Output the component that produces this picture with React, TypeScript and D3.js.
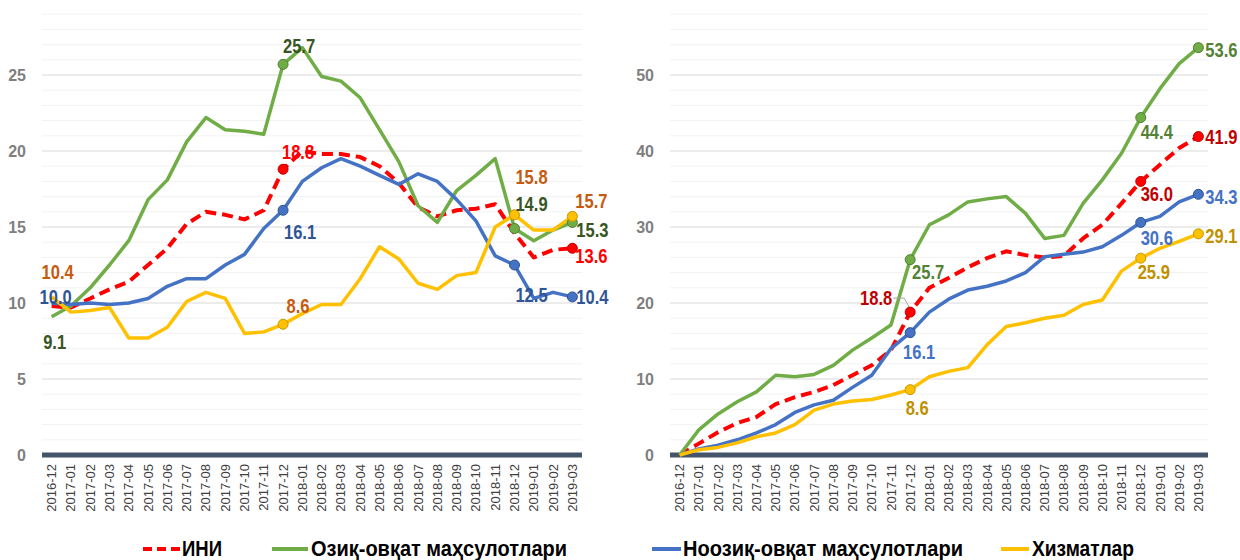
import React, { useRef, useEffect } from 'react';
import * as d3 from 'd3';

// Months along the x axis (both panels)
const months = [
  '2016-12',
  '2017-01', '2017-02', '2017-03', '2017-04', '2017-05', '2017-06',
  '2017-07', '2017-08', '2017-09', '2017-10', '2017-11', '2017-12',
  '2018-01', '2018-02', '2018-03', '2018-04', '2018-05', '2018-06',
  '2018-07', '2018-08', '2018-09', '2018-10', '2018-11', '2018-12',
  '2019-01', '2019-02', '2019-03',
];

const seriesNames = ['ИНИ', 'Озиқ-овқат маҳсулотлари', 'Ноозиқ-овқат маҳсулотлари', 'Хизматлар'];

// Left panel: annual change, %
const leftIni = [9.8, 9.7, 10.3, 10.9, 11.4, 12.5, 13.6, 15.2, 16.0, 15.8, 15.5, 16.1, 18.8, 20.0, 19.8, 19.8, 19.6, 19.0, 17.9, 16.3, 15.7, 16.1, 16.2, 16.5, 14.6, 13.0, 13.5, 13.6];
const leftFood = [9.1, 9.8, 11.0, 12.5, 14.1, 16.8, 18.1, 20.6, 22.2, 21.4, 21.3, 21.1, 25.7, 26.8, 24.9, 24.6, 23.5, 21.4, 19.3, 16.4, 15.3, 17.4, 18.4, 19.5, 14.9, 14.1, 14.8, 15.3];
const leftNonFood = [10.0, 9.9, 10.0, 9.9, 10.0, 10.3, 11.1, 11.6, 11.6, 12.5, 13.2, 14.9, 16.1, 18.0, 18.9, 19.5, 19.0, 18.4, 17.8, 18.5, 18.0, 16.8, 15.4, 13.1, 12.5, 10.3, 10.7, 10.4];
const leftServices = [10.4, 9.4, 9.5, 9.7, 7.7, 7.7, 8.4, 10.1, 10.7, 10.3, 8.0, 8.1, 8.6, 9.3, 9.9, 9.9, 11.6, 13.7, 12.9, 11.3, 10.9, 11.8, 12.0, 15.0, 15.8, 14.8, 14.8, 15.7];

// Right panel: cumulative change since 2016-12, %
const rightIni = [0, 1.5, 3.0, 4.2, 5.0, 6.7, 7.6, 8.3, 9.2, 10.5, 11.8, 13.8, 18.8, 22.0, 23.3, 24.7, 25.9, 26.8, 26.3, 26.0, 26.2, 28.5, 30.3, 33.1, 36.0, 38.2, 40.4, 41.9];
const rightFood = [0, 3.3, 5.4, 7.0, 8.3, 10.5, 10.3, 10.6, 11.8, 13.8, 15.4, 17.1, 25.7, 30.3, 31.6, 33.3, 33.7, 34.0, 31.8, 28.5, 28.9, 33.1, 36.2, 39.7, 44.4, 48.2, 51.5, 53.6];
const rightNonFood = [0, 0.8, 1.3, 2.0, 2.9, 4.0, 5.6, 6.6, 7.2, 8.9, 10.5, 14.0, 16.1, 18.8, 20.5, 21.7, 22.2, 22.9, 24.0, 26.1, 26.4, 26.7, 27.4, 28.9, 30.6, 31.4, 33.3, 34.3];
const rightServices = [0, 0.7, 1.0, 1.6, 2.4, 2.9, 4.0, 5.9, 6.7, 7.1, 7.3, 7.9, 8.6, 10.3, 11.0, 11.5, 14.5, 16.9, 17.4, 18.0, 18.4, 19.8, 20.4, 24.2, 25.9, 27.2, 28.1, 29.1];

const leftMax = 29;
const rightMax = 58;

// which points carry a marker: [series index, month index]
const leftMarkers: [number, number][] = [
  [0, 12], [1, 12], [2, 12], [3, 12],
  [1, 24], [2, 24], [3, 24],
  [0, 27], [1, 27], [2, 27], [3, 27],
];
const rightMarkers: [number, number][] = [
  [0, 12], [1, 12], [2, 12], [3, 12],
  [0, 24], [1, 24], [2, 24], [3, 24],
  [0, 27], [1, 27], [2, 27], [3, 27],
];

// data labels: series, month, text, offset from the point
const leftLabels = [
  { s: 3, i: 0, t: '10.4', dx: 6, dy: -25 },
  { s: 2, i: 0, t: '10.0', dx: 4, dy: -6 },
  { s: 1, i: 0, t: '9.1', dx: 3, dy: 25 },
  { s: 1, i: 12, t: '25.7', dx: 16, dy: -19 },
  { s: 0, i: 12, t: '18.8', dx: 15, dy: -17 },
  { s: 2, i: 12, t: '16.1', dx: 17, dy: 22 },
  { s: 3, i: 12, t: '8.6', dx: 15, dy: -18 },
  { s: 3, i: 24, t: '15.8', dx: 17, dy: -38 },
  { s: 1, i: 24, t: '14.9', dx: 17, dy: -25 },
  { s: 2, i: 24, t: '12.5', dx: 17, dy: 30 },
  { s: 3, i: 27, t: '15.7', dx: 19, dy: -16 },
  { s: 1, i: 27, t: '15.3', dx: 20, dy: 7 },
  { s: 0, i: 27, t: '13.6', dx: 19, dy: 8 },
  { s: 2, i: 27, t: '10.4', dx: 20, dy: 0 },
];
const rightLabels = [
  { s: 1, i: 12, t: '25.7', dx: 18, dy: 12 },
  { s: 0, i: 12, t: '18.8', dx: -34, dy: -14 },
  { s: 2, i: 12, t: '16.1', dx: 9, dy: 19 },
  { s: 3, i: 12, t: '8.6', dx: 7, dy: 18 },
  { s: 1, i: 24, t: '44.4', dx: 16, dy: 14 },
  { s: 0, i: 24, t: '36.0', dx: 16, dy: 12 },
  { s: 2, i: 24, t: '30.6', dx: 16, dy: 15 },
  { s: 3, i: 24, t: '25.9', dx: 13, dy: 14 },
  { s: 1, i: 27, t: '53.6', dx: 23, dy: 2 },
  { s: 0, i: 27, t: '41.9', dx: 23, dy: 0 },
  { s: 2, i: 27, t: '34.3', dx: 23, dy: 2 },
  { s: 3, i: 27, t: '29.1', dx: 23, dy: 2 },
];

const lineColors = ['#FF0000', '#70AD47', '#4472C4', '#FFC000'];
const markerStroke = ['#C00000', '#507E32', '#2F528F', '#C99700'];
const leftLabelColors = ['#FF0000', '#375623', '#2F5597', '#C55A11'];
const rightLabelColors = ['#C00000', '#548235', '#4472C4', '#BF9000'];

const sans = "'Liberation Sans', Arial, sans-serif";

// the labels in the picture use a condensed face: squeeze to its width
const narrowWidth = (t: string, size: number) =>
  t.split('').reduce((w, c) => w + (c === '.' ? 0.23 : 0.46) * size, 0);

const App: React.FC = () => {
  const ref = useRef<SVGSVGElement>(null);

  useEffect(() => {
    if (!ref.current) return;
    const svg = d3.select(ref.current);
    svg.selectAll('*').remove();

    const drawPanel = (opts: {
      x0: number; x1: number; yMax: number; minorStep: number; majorStep: number;
      tickRight: number; series: number[][]; markers: [number, number][];
      labels: { s: number; i: number; t: string; dx: number; dy: number }[];
      labelColors: string[]; leader?: boolean;
    }) => {
      const top = 14.2, bottom = 455;
      const x = d3.scalePoint<string>().domain(months).range([opts.x0, opts.x1]).padding(0.5);
      const y = d3.scaleLinear().domain([0, opts.yMax]).range([bottom, top]);
      const g = svg.append('g');

      // gridlines
      const gridVals = d3.range(opts.minorStep, opts.yMax + 0.001, opts.minorStep);
      g.selectAll('line.grid').data(gridVals).enter().append('line')
        .attr('x1', opts.x0).attr('x2', opts.x1)
        .attr('y1', d => y(d)).attr('y2', d => y(d))
        .attr('stroke', d => (Math.abs(d % opts.majorStep) < 0.001 ? '#D9D9D9' : '#F2F2F2'))
        .attr('stroke-width', 1);

      // y tick labels
      const tickVals = d3.range(0, opts.yMax + 0.001, opts.majorStep);
      g.selectAll('text.yt').data(tickVals).enter().append('text')
        .attr('x', opts.tickRight).attr('y', d => y(d)).attr('dy', '0.36em')
        .attr('text-anchor', 'end')
        .attr('font-family', sans).attr('font-weight', 'bold').attr('font-size', 16)
        .attr('fill', '#7F7F7F')
        .text(d => d);

      // x tick labels
      g.selectAll('text.xt').data(months).enter().append('text')
        .attr('transform', d => `translate(${x(d)},${bottom + 9}) rotate(-90)`)
        .attr('dy', '0.35em')
        .attr('text-anchor', 'end')
        .attr('font-family', sans).attr('font-size', 13)
        .attr('fill', '#404040')
        .text(d => d);

      // zero axis
      g.append('line')
        .attr('x1', opts.x0).attr('x2', opts.x1)
        .attr('y1', y(0)).attr('y2', y(0))
        .attr('stroke', '#44546A').attr('stroke-width', 5);

      const line = d3.line<number>()
        .x((_, i) => x(months[i]) as number)
        .y(d => y(d));

      opts.series.forEach((vals, s) => {
        g.append('path')
          .datum(vals)
          .attr('fill', 'none')
          .attr('stroke', lineColors[s])
          .attr('stroke-width', s === 0 ? 4 : 3.5)
          .attr('stroke-dasharray', s === 0 ? '11,6' : null)
          .attr('stroke-linejoin', 'round')
          .attr('d', line);
      });

      if (opts.leader) {
        const lb = opts.labels.find(l => l.s === 0 && l.i === 12)!;
        const px = x(months[lb.i]) as number;
        const py = y(opts.series[lb.s][lb.i]);
        g.append('polyline')
          .attr('points', `${px + lb.dx + 17},${py + lb.dy} ${px - 6},${py + lb.dy} ${px - 1},${py - 5}`)
          .attr('fill', 'none').attr('stroke', '#A6A6A6').attr('stroke-width', 1);
      }

      g.selectAll('circle.mk').data(opts.markers).enter().append('circle')
        .attr('cx', d => x(months[d[1]]) as number)
        .attr('cy', d => y(opts.series[d[0]][d[1]]))
        .attr('r', 5)
        .attr('fill', d => lineColors[d[0]])
        .attr('stroke', d => markerStroke[d[0]])
        .attr('stroke-width', 1);

      g.selectAll('text.lb').data(opts.labels).enter().append('text')
        .attr('x', d => (x(months[d.i]) as number) + d.dx)
        .attr('y', d => y(opts.series[d.s][d.i]) + d.dy)
        .attr('dy', '0.36em')
        .attr('text-anchor', 'middle')
        .attr('font-family', sans).attr('font-weight', 'bold').attr('font-size', 20)
        .attr('textLength', d => narrowWidth(d.t, 20))
        .attr('lengthAdjust', 'spacingAndGlyphs')
        .attr('fill', d => opts.labelColors[d.s])
        .text(d => d.t);
    };

    drawPanel({
      x0: 42, x1: 582, yMax: leftMax, minorStep: 1, majorStep: 5, tickRight: 26,
      series: [leftIni, leftFood, leftNonFood, leftServices],
      markers: leftMarkers, labels: leftLabels, labelColors: leftLabelColors,
    });
    drawPanel({
      x0: 670, x1: 1208, yMax: rightMax, minorStep: 2, majorStep: 10, tickRight: 654,
      series: [rightIni, rightFood, rightNonFood, rightServices],
      markers: rightMarkers, labels: rightLabels, labelColors: rightLabelColors, leader: true,
    });

    // legend
    const legendPos = [
      { lx: 143, lw: 37, tx: 182, tw: 40 },
      { lx: 272, lw: 36, tx: 311, tw: 256 },
      { lx: 652, lw: 29, tx: 683, tw: 280 },
      { lx: 1001, lw: 28, tx: 1032, tw: 102 },
    ];
    const lg = svg.append('g');
    seriesNames.forEach((name, s) => {
      const p = legendPos[s];
      lg.append('line')
        .attr('x1', p.lx).attr('x2', p.lx + p.lw)
        .attr('y1', 549).attr('y2', 549)
        .attr('stroke', lineColors[s]).attr('stroke-width', 4)
        .attr('stroke-dasharray', s === 0 ? '9,5' : null);
      lg.append('text')
        .attr('x', p.tx).attr('y', 556)
        .attr('font-family', sans).attr('font-weight', 'bold').attr('font-size', 22)
        .attr('fill', '#000000')
        .attr('textLength', p.tw).attr('lengthAdjust', 'spacingAndGlyphs')
        .text(name);
    });
  }, []);

  return (
    <svg
      ref={ref}
      width={1240}
      height={560}
      viewBox="0 0 1240 560"
      style={{ position: 'absolute', left: 0, top: 0, background: '#ffffff' }}
    />
  );
};

export default App;
